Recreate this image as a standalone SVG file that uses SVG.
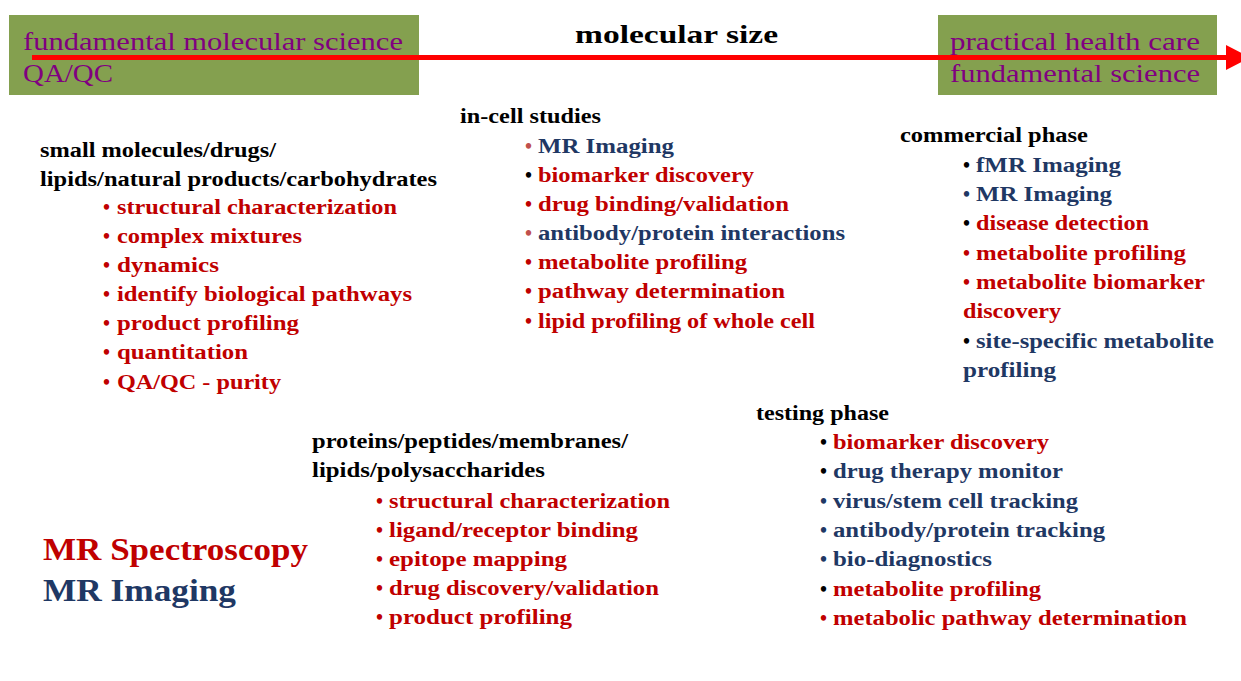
<svg xmlns="http://www.w3.org/2000/svg" width="1241" height="681" viewBox="0 0 1241 681">
<style>
text{font-family:"Liberation Serif","Times New Roman",serif;}
.box{fill:#84A04F;}
.top{font-size:26px;fill:#800080;}
.b{font-weight:bold;font-size:20px;}
.h{fill:#000;}
.r{fill:#C00000;}
.n{fill:#1F3864;}
.k{fill:#000;}
.p{fill:#C0504D;}
.big{font-weight:bold;font-size:31px;}
</style>
<rect width="1241" height="681" fill="#fff"/>
<g id="box-left">
<rect class="box" x="9" y="15" width="410" height="80"/>
<text class="top" x="23" y="50" textLength="380" lengthAdjust="spacingAndGlyphs">fundamental molecular science</text>
<text class="top" x="23" y="82" textLength="90" lengthAdjust="spacingAndGlyphs">QA/QC</text>
</g>
<g id="box-right">
<rect class="box" x="938" y="15" width="279" height="80"/>
<text class="top" x="950" y="50" textLength="250" lengthAdjust="spacingAndGlyphs">practical health care</text>
<text class="top" x="950" y="82" textLength="250" lengthAdjust="spacingAndGlyphs">fundamental science</text>
</g>
<g id="connectors">
<line x1="32" y1="57.5" x2="1228" y2="57.5" stroke="#FF0000" stroke-width="5"/>
<polygon points="1226,45 1250,57.5 1226,70" fill="#FF0000"/>
</g>
<g id="title">
<text x="575" y="43" style="font-weight:bold;font-size:25px" textLength="203" lengthAdjust="spacingAndGlyphs">molecular size</text>
</g>
<g id="small-molecules" class="b">
<text class="h" x="40" y="157" textLength="236" lengthAdjust="spacingAndGlyphs">small molecules/drugs/</text>
<text class="h" x="40" y="186" textLength="397" lengthAdjust="spacingAndGlyphs">lipids/natural products/carbohydrates</text>
<text class="r" x="103" y="214">•</text><text class="r" x="117" y="214" textLength="280" lengthAdjust="spacingAndGlyphs">structural characterization</text>
<text class="r" x="103" y="243">•</text><text class="r" x="117" y="243" textLength="185" lengthAdjust="spacingAndGlyphs">complex mixtures</text>
<text class="r" x="103" y="272">•</text><text class="r" x="117" y="272" textLength="102" lengthAdjust="spacingAndGlyphs">dynamics</text>
<text class="r" x="103" y="301">•</text><text class="r" x="117" y="301" textLength="295" lengthAdjust="spacingAndGlyphs">identify biological pathways</text>
<text class="r" x="103" y="330">•</text><text class="r" x="117" y="330" textLength="182" lengthAdjust="spacingAndGlyphs">product profiling</text>
<text class="r" x="103" y="359">•</text><text class="r" x="117" y="359" textLength="131" lengthAdjust="spacingAndGlyphs">quantitation</text>
<text class="r" x="103" y="389">•</text><text class="r" x="117" y="389" textLength="164" lengthAdjust="spacingAndGlyphs">QA/QC - purity</text>
</g>
<g id="in-cell" class="b">
<text class="h" x="460" y="123" textLength="141" lengthAdjust="spacingAndGlyphs">in-cell studies</text>
<text class="p" x="525" y="153">•</text><text class="n" x="538" y="153" textLength="136" lengthAdjust="spacingAndGlyphs">MR Imaging</text>
<text class="k" x="525" y="182">•</text><text class="r" x="538" y="182" textLength="216" lengthAdjust="spacingAndGlyphs">biomarker discovery</text>
<text class="r" x="525" y="211">•</text><text class="r" x="538" y="211" textLength="251" lengthAdjust="spacingAndGlyphs">drug binding/validation</text>
<text class="p" x="525" y="240">•</text><text class="n" x="538" y="240" textLength="307" lengthAdjust="spacingAndGlyphs">antibody/protein interactions</text>
<text class="r" x="525" y="269">•</text><text class="r" x="538" y="269" textLength="209" lengthAdjust="spacingAndGlyphs">metabolite profiling</text>
<text class="r" x="525" y="298">•</text><text class="r" x="538" y="298" textLength="247" lengthAdjust="spacingAndGlyphs">pathway determination</text>
<text class="r" x="525" y="328">•</text><text class="r" x="538" y="328" textLength="277" lengthAdjust="spacingAndGlyphs">lipid profiling of whole cell</text>
</g>
<g id="commercial" class="b">
<text class="h" x="900" y="142" textLength="188" lengthAdjust="spacingAndGlyphs">commercial phase</text>
<text class="k" x="963" y="172">•</text><text class="n" x="976" y="172" textLength="145" lengthAdjust="spacingAndGlyphs">fMR Imaging</text>
<text class="n" x="963" y="201">•</text><text class="n" x="976" y="201" textLength="136" lengthAdjust="spacingAndGlyphs">MR Imaging</text>
<text class="k" x="963" y="230">•</text><text class="r" x="976" y="230" textLength="173" lengthAdjust="spacingAndGlyphs">disease detection</text>
<text class="r" x="963" y="260">•</text><text class="r" x="976" y="260" textLength="210" lengthAdjust="spacingAndGlyphs">metabolite profiling</text>
<text class="r" x="963" y="289">•</text><text class="r" x="976" y="289" textLength="229" lengthAdjust="spacingAndGlyphs">metabolite biomarker</text>
<text class="r" x="963" y="318" textLength="98" lengthAdjust="spacingAndGlyphs">discovery</text>
<text class="k" x="963" y="348">•</text><text class="n" x="976" y="348" textLength="238" lengthAdjust="spacingAndGlyphs">site-specific metabolite</text>
<text class="n" x="963" y="377" textLength="93" lengthAdjust="spacingAndGlyphs">profiling</text>
</g>
<g id="proteins" class="b">
<text class="h" x="312" y="448" textLength="316" lengthAdjust="spacingAndGlyphs">proteins/peptides/membranes/</text>
<text class="h" x="312" y="477" textLength="233" lengthAdjust="spacingAndGlyphs">lipids/polysaccharides</text>
<text class="r" x="376" y="508">•</text><text class="r" x="389" y="508" textLength="281" lengthAdjust="spacingAndGlyphs">structural characterization</text>
<text class="r" x="376" y="537">•</text><text class="r" x="389" y="537" textLength="249" lengthAdjust="spacingAndGlyphs">ligand/receptor binding</text>
<text class="r" x="376" y="566">•</text><text class="r" x="389" y="566" textLength="178" lengthAdjust="spacingAndGlyphs">epitope mapping</text>
<text class="r" x="376" y="595">•</text><text class="r" x="389" y="595" textLength="270" lengthAdjust="spacingAndGlyphs">drug discovery/validation</text>
<text class="r" x="376" y="624">•</text><text class="r" x="389" y="624" textLength="183" lengthAdjust="spacingAndGlyphs">product profiling</text>
</g>
<g id="testing" class="b">
<text class="h" x="756" y="420" textLength="133" lengthAdjust="spacingAndGlyphs">testing phase</text>
<text class="k" x="820" y="449">•</text><text class="r" x="833" y="449" textLength="216" lengthAdjust="spacingAndGlyphs">biomarker discovery</text>
<text class="k" x="820" y="478">•</text><text class="n" x="833" y="478" textLength="230" lengthAdjust="spacingAndGlyphs">drug therapy monitor</text>
<text class="n" x="820" y="508">•</text><text class="n" x="833" y="508" textLength="245" lengthAdjust="spacingAndGlyphs">virus/stem cell tracking</text>
<text class="n" x="820" y="537">•</text><text class="n" x="833" y="537" textLength="272" lengthAdjust="spacingAndGlyphs">antibody/protein tracking</text>
<text class="n" x="820" y="566">•</text><text class="n" x="833" y="566" textLength="159" lengthAdjust="spacingAndGlyphs">bio-diagnostics</text>
<text class="k" x="820" y="596">•</text><text class="r" x="833" y="596" textLength="208" lengthAdjust="spacingAndGlyphs">metabolite profiling</text>
<text class="r" x="820" y="625">•</text><text class="r" x="833" y="625" textLength="354" lengthAdjust="spacingAndGlyphs">metabolic pathway determination</text>
</g>
<g id="legend">
<text class="big r" x="43" y="560" textLength="265" lengthAdjust="spacingAndGlyphs">MR Spectroscopy</text>
<text class="big n" x="43" y="601" textLength="193" lengthAdjust="spacingAndGlyphs">MR Imaging</text>
</g>
</svg>
